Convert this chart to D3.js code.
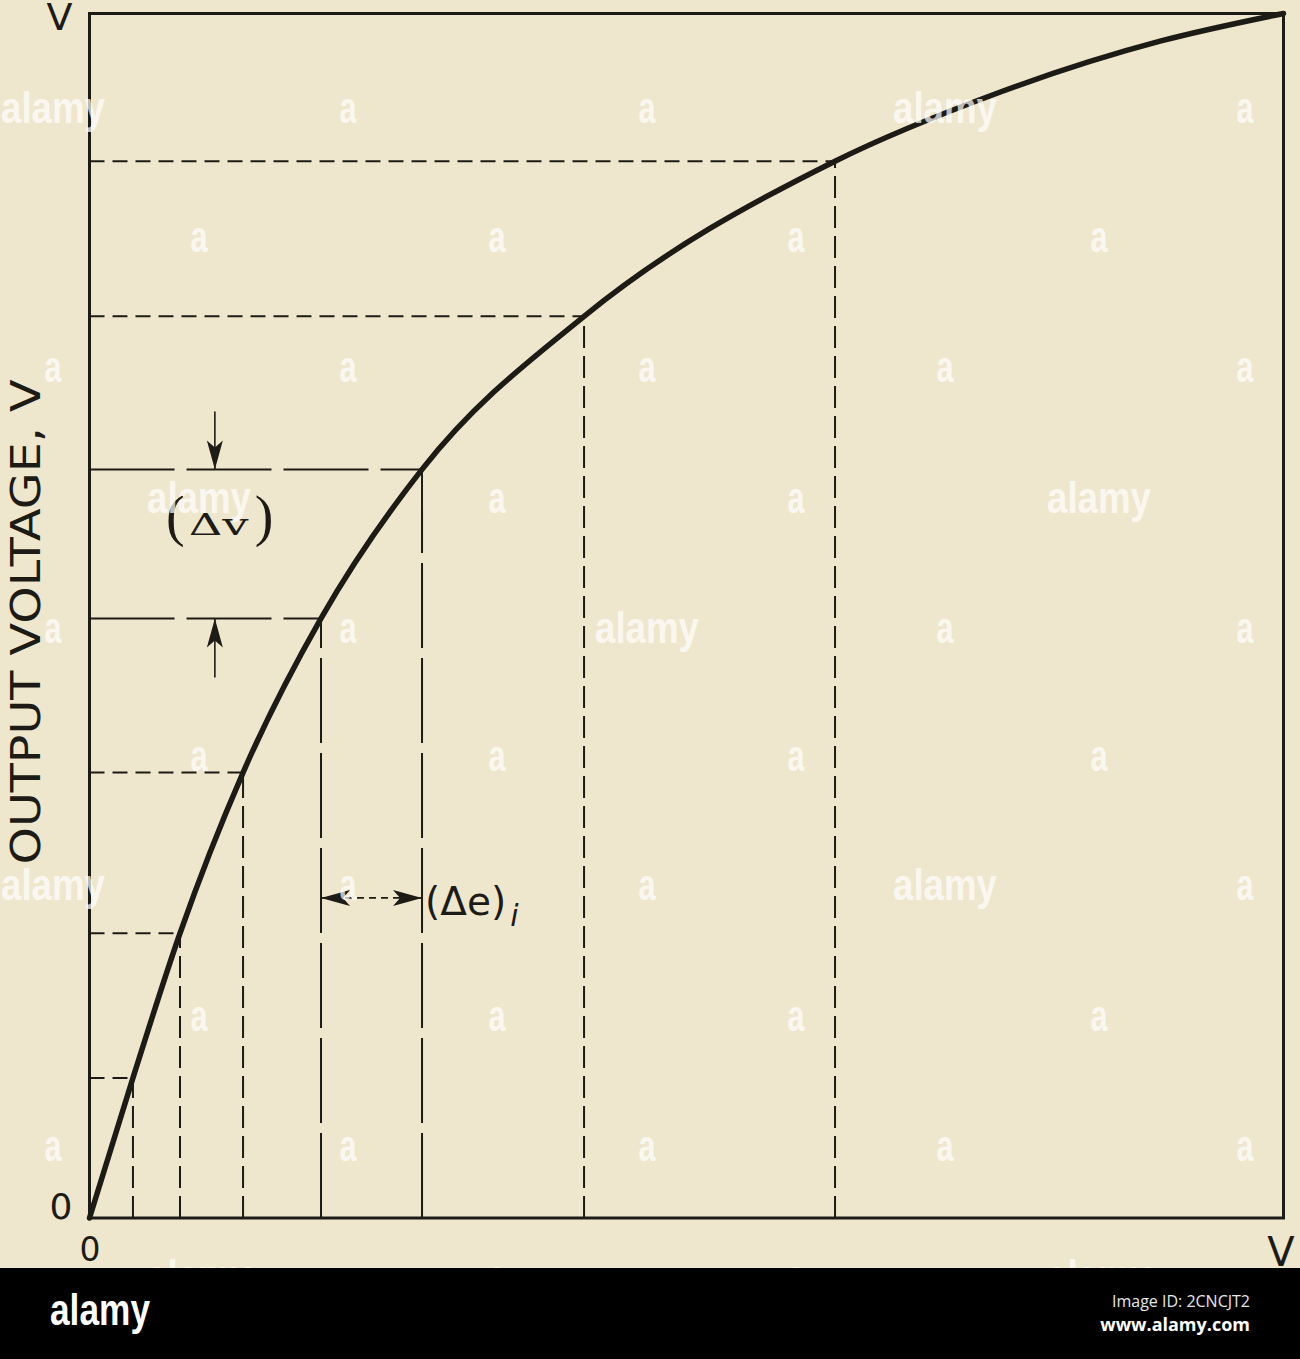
<!DOCTYPE html>
<html>
<head>
<meta charset="utf-8">
<script src="https://cdn.jsdelivr.net/npm/d3@7"></script>
<style>
  body { margin: 0; background: #000; }
  svg { display: block; }
</style>
</head>
<body>
<script>
var width = 1300, height = 1359;

// input levels (fraction of V) of the dashed verticals
var inputLevels = [0.0364, 0.0758, 0.1286, 0.1939, 0.2785, 0.4142, 0.6244];
// output levels (fraction of V) of the dashed horizontals, same points on the curve
var outputLevels = [0.1163, 0.2364, 0.3698, 0.4978, 0.6215, 0.7486, 0.8774];
// two more points
var upperInput = [0.7584, 0.8974];
var upperOutput = [0.9332, 0.9772];
// the pair of levels used for the (Δv) / (Δe)i annotation
var deltaPair = [3, 4];
var tickValues = [0, 1];
var tickLabels = ["0", "V"];
var yTitle = "OUTPUT VOLTAGE, V";

var ink = "#1d1b15";
var paper = "#efe7cd";

var svg = d3.select("body")
    .append("svg")
    .attr("width", width)
    .attr("height", height);

svg.append("rect")
    .attr("width", width)
    .attr("height", height)
    .attr("fill", paper);

var x = d3.scaleLinear().domain([0, 1]).range([89.5, 1283.5]);
var y = d3.scaleLinear().domain([0, 1]).range([1218, 13.5]);

// curve points built from the level arrays
var curvePts = [[0, 0]];
inputLevels.forEach(function(d, i) { curvePts.push([d, outputLevels[i]]); });
upperInput.forEach(function(d, i) { curvePts.push([d, upperOutput[i]]); });
curvePts.push([1, 1]);

var levels = inputLevels.map(function(d, i) {
    return { e: d, v: outputLevels[i], isDelta: deltaPair.indexOf(i) >= 0 };
});

// dashed horizontals from the left axis to the curve
svg.append("g")
    .selectAll("line")
    .data(levels)
    .enter().append("line")
    .attr("x1", x(0))
    .attr("x2", function(d) { return x(d.e); })
    .attr("y1", function(d) { return y(d.v); })
    .attr("y2", function(d) { return y(d.v); })
    .attr("stroke", ink)
    .attr("stroke-width", 2)
    .attr("stroke-dasharray", function(d) { return d.isDelta ? "85,12" : "15,8"; });

// dashed verticals from the bottom axis up to the curve
svg.append("g")
    .selectAll("line")
    .data(levels)
    .enter().append("line")
    .attr("x1", function(d) { return x(d.e); })
    .attr("x2", function(d) { return x(d.e); })
    .attr("y1", y(0))
    .attr("y2", function(d) { return y(d.v); })
    .attr("stroke", ink)
    .attr("stroke-width", 2)
    .attr("stroke-dasharray", function(d) { return d.isDelta ? "85,10" : "22,8"; });

// frame
svg.append("rect")
    .attr("x", x(0))
    .attr("y", y(1))
    .attr("width", x(1) - x(0))
    .attr("height", y(0) - y(1))
    .attr("fill", "none")
    .attr("stroke", ink)
    .attr("stroke-width", 3);

// transfer curve
svg.append("path")
    .datum(curvePts)
    .attr("d", d3.line()
        .x(function(d) { return x(d[0]); })
        .y(function(d) { return y(d[1]); })
        .curve(d3.curveMonotoneX))
    .attr("fill", "none")
    .attr("stroke", ink)
    .attr("stroke-width", 5.5)
    .attr("stroke-linecap", "round");

// axes with only 0 and V
var tickFont = "'DejaVu Sans', sans-serif";
var xAxis = d3.axisBottom(x)
    .tickValues(tickValues)
    .tickFormat(function(d, i) { return tickLabels[i]; })
    .tickSize(0)
    .tickPadding(20);
var gx = svg.append("g")
    .attr("transform", "translate(0," + y(0) + ")")
    .attr("color", ink)
    .call(xAxis);
gx.select(".domain").remove();
gx.selectAll("text")
    .style("font-family", tickFont)
    .style("font-size", function(d) { return d === 0 ? "33px" : "40px"; })
    .attr("dx", function(d) { return d === 0 ? 0 : -3; });

var yAxis = d3.axisLeft(y)
    .tickValues(tickValues)
    .tickFormat(function(d, i) { return tickLabels[i]; })
    .tickSize(0)
    .tickPadding(17);
var gy = svg.append("g")
    .attr("transform", "translate(" + x(0) + ",0)")
    .attr("color", ink)
    .call(yAxis);
gy.select(".domain").remove();
gy.selectAll("text")
    .style("font-family", tickFont)
    .style("font-size", function(d) { return d === 0 ? "36px" : "38px"; })
    .attr("dy", function(d) { return d === 0 ? "0em" : "0.42em"; });

svg.append("text")
    .attr("transform", "translate(40,622) rotate(-90)")
    .attr("text-anchor", "middle")
    .attr("textLength", 485)
    .attr("lengthAdjust", "spacingAndGlyphs")
    .style("font-family", tickFont)
    .style("font-size", "40px")
    .attr("fill", ink)
    .text(yTitle);

// arrow heads
svg.append("defs").append("marker")
    .attr("id", "head")
    .attr("viewBox", "-30 -10 32 20")
    .attr("refX", 0)
    .attr("refY", 0)
    .attr("markerWidth", 32)
    .attr("markerHeight", 20)
    .attr("markerUnits", "userSpaceOnUse")
    .attr("orient", "auto-start-reverse")
    .append("path")
    .attr("d", "M0,0L-29,-8L-22,0L-29,8Z")
    .attr("fill", ink);

var lo = levels[deltaPair[0]], hi = levels[deltaPair[1]];

// (Δv) arrows
var dvX = 0.105;
svg.append("line")
    .attr("x1", x(dvX)).attr("x2", x(dvX))
    .attr("y1", y(hi.v + 0.048)).attr("y2", y(hi.v))
    .attr("stroke", ink).attr("stroke-width", 1.6)
    .attr("marker-end", "url(#head)");
svg.append("line")
    .attr("x1", x(dvX)).attr("x2", x(dvX))
    .attr("y1", y(lo.v - 0.049)).attr("y2", y(lo.v))
    .attr("stroke", ink).attr("stroke-width", 1.6)
    .attr("marker-end", "url(#head)");

// (Δv) label: tall thin parens around a wide, short Δv
var dvBase = y((lo.v + hi.v) / 2) - 9;
var dvText = svg.append("text")
    .attr("x", 166).attr("y", dvBase)
    .attr("fill", ink)
    .style("font-family", "'Liberation Serif', serif");
dvText.append("tspan").style("font-size", "56px").text("(");
dvText.append("tspan")
    .attr("dx", 4)
    .attr("textLength", 60)
    .attr("lengthAdjust", "spacingAndGlyphs")
    .style("font-family", "'DejaVu Serif', serif")
    .style("font-size", "30px")
    .text("Δv");
dvText.append("tspan").attr("dx", 6).style("font-size", "56px").text(")");

// (Δe)i arrows
var deY = 0.2657;
svg.append("line")
    .attr("x1", x(lo.e)).attr("x2", x(hi.e))
    .attr("y1", y(deY)).attr("y2", y(deY))
    .attr("stroke", ink).attr("stroke-width", 1.8)
    .attr("stroke-dasharray", "7,5")
    .attr("marker-start", "url(#head)")
    .attr("marker-end", "url(#head)");

var deText = svg.append("text")
    .attr("x", x(hi.e) + 3).attr("y", y(deY) + 17)
    .style("font-family", tickFont)
    .attr("fill", ink);
deText.append("tspan").style("font-size", "39px").text("(Δe)");
deText.append("tspan")
    .attr("dx", 4).attr("dy", 11)
    .style("font-size", "30px")
    .style("font-style", "italic")
    .text("i");

// stock-photo watermark grid
var wmRows = [112, 241, 371, 502, 632, 760, 889, 1020, 1150, 1280];
var wmColsA = [53, 348, 647, 945, 1245];
var wmColsB = [199, 497, 796, 1099];
var wmWords = ["0-0", "0-3", "3-0", "3-3", "4-2", "6-0", "6-3", "9-0", "9-3"];
var wmFont = "'Liberation Sans Narrow', 'Liberation Sans', sans-serif";
var marks = [];
wmRows.forEach(function(ry, r) {
    var cols = r % 2 === 0 ? wmColsA : wmColsB;
    cols.forEach(function(cx, c) {
        marks.push({ x: cx, y: ry, word: wmWords.indexOf(r + "-" + c) >= 0 });
    });
});
svg.append("g")
    .attr("opacity", 0.7)
    .selectAll("text")
    .data(marks)
    .enter().append("text")
    .attr("x", function(d) { return d.x; })
    .attr("y", function(d) { return d.y + 11; })
    .attr("text-anchor", "middle")
    .attr("textLength", function(d) { return d.word ? 104 : 17; })
    .attr("lengthAdjust", "spacingAndGlyphs")
    .style("font-family", wmFont)
    .style("font-weight", "bold")
    .style("font-size", "44px")
    .attr("fill", "#fff")
    .text(function(d) { return d.word ? "alamy" : "a"; });

// footer bar
svg.append("rect")
    .attr("x", 0).attr("y", 1268)
    .attr("width", width).attr("height", height - 1268)
    .attr("fill", "#000");
svg.append("text")
    .attr("x", 50).attr("y", 1325)
    .attr("textLength", 100)
    .attr("lengthAdjust", "spacingAndGlyphs")
    .style("font-family", wmFont)
    .style("font-weight", "bold")
    .style("font-size", "45px")
    .attr("fill", "#fff")
    .text("alamy");
svg.append("text")
    .attr("x", 1250).attr("y", 1307)
    .attr("text-anchor", "end")
    .style("font-family", "'Open Sans', sans-serif")
    .style("font-size", "16px")
    .attr("fill", "#e6e6e6")
    .text("Image ID: 2CNCJT2");
svg.append("text")
    .attr("x", 1250).attr("y", 1331)
    .attr("text-anchor", "end")
    .style("font-family", "'Open Sans', sans-serif")
    .style("font-weight", "bold")
    .style("font-size", "18px")
    .attr("fill", "#fff")
    .text("www.alamy.com");
</script>
</body>
</html>
